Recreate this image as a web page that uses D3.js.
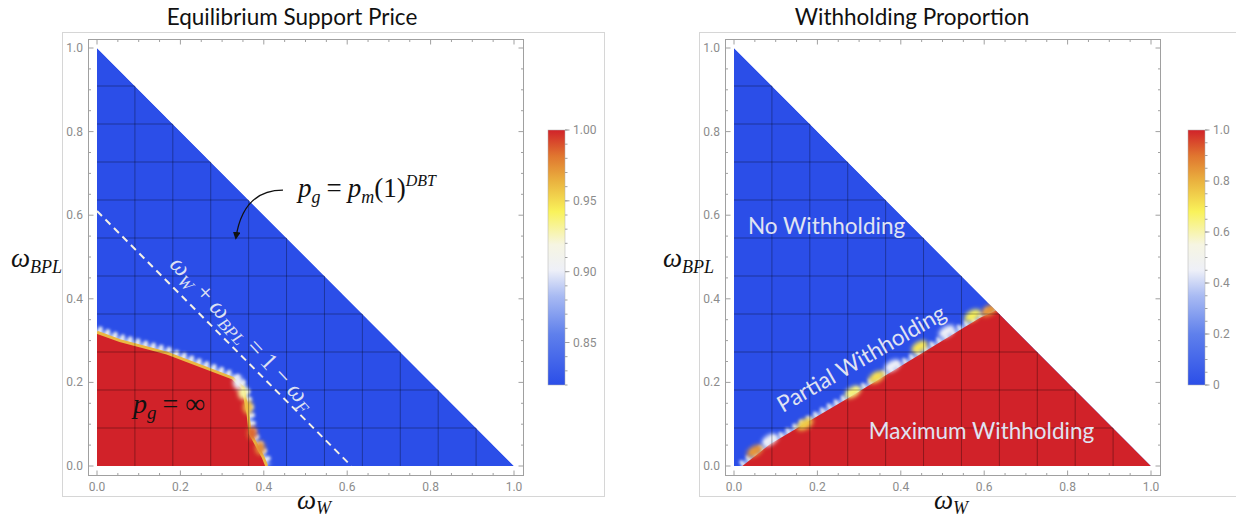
<!DOCTYPE html>
<html lang="en">
<head>
<meta charset="UTF-8">
<title>Equilibrium Support Price / Withholding Proportion</title>
<script src="https://d3js.org/d3.v7.min.js"></script>
<style>
  body { margin: 0; background: #fff; }
  .tick-label { font-family: Roboto, "Liberation Sans", sans-serif; font-size: 12px; fill: #8c8c8c; }
  .title { font-family: Lato, "Open Sans", sans-serif; font-size: 22.5px; fill: #111; }
  .math { font-family: "Liberation Serif", serif; font-style: italic; fill: #111; }
  .region-label { font-family: Lato, "Open Sans", sans-serif; font-size: 22.5px; fill: #e0e3f2; }
</style>
</head>
<body>
<svg width="1236" height="518"></svg>
<script>
  // axes of both panels: omega_W (x) and omega_BPL (y), 0..1
  const axisTicks = [0, 0.2, 0.4, 0.6, 0.8, 1.0];

  // left panel: equilibrium support price (colour bar 0.82 .. 1.00)
  const priceRange = [0.82, 1.0];
  const priceTicks = [0.85, 0.90, 0.95, 1.00];
  // edge of the p_g = infinity region (omegaW, omegaBPL)
  const infBoundary = [[0, 0.32], [0.055, 0.30], [0.168, 0.27], [0.326, 0.21], [0.35, 0.187],
                       [0.362, 0.127], [0.367, 0.079], [0.398, 0.022], [0.407, 0]];
  // blurry cells along that edge (omegaW, omegaBPL, price)
  const priceSpots = [[0.35, 0.176, 0.93], [0.362, 0.141, 0.96], [0.372, 0.079, 0.985],
                      [0.391, 0.043, 0.975], [0.338, 0.2, 0.9]];
  const oneMinusWF = 0.61;   // dashed line omegaW + omegaBPL = 1 - omegaF

  // right panel: withholding proportion (colour bar 0 .. 1)
  const shareRange = [0, 1];
  const shareTicks = [0, 0.2, 0.4, 0.6, 0.8, 1.0];
  const shareTickLabels = ["0", "0.2", "0.4", "0.6", "0.8", "1.0"];
  const withholdBoundary = [[0.02, 0], [0.086, 0.052], [0.27, 0.16], [0.428, 0.256],
                            [0.589, 0.354], [0.628, 0.372]];
  const shareSpots = [[0.05, 0.036, 0.85], [0.086, 0.062, 0.45], [0.17, 0.1, 0.75],
                      [0.285, 0.177, 0.65], [0.342, 0.213, 0.72], [0.38, 0.24, 0.45],
                      [0.445, 0.285, 0.7], [0.51, 0.322, 0.45], [0.572, 0.36, 0.68],
                      [0.612, 0.372, 0.85]];

  // temperature style colour map
  const tempPos = [0, 0.2, 0.35, 0.45, 0.55, 0.68, 0.8, 0.9, 1];
  const tempStops = ["#2b4ee8", "#5f80ec", "#a9bbf3", "#eef0f8", "#f6f5e2", "#f9f25a", "#eab23f", "#e0752f", "#d12229"];
  const temp = d3.scaleLinear().domain(tempPos).range(tempStops).interpolate(d3.interpolateRgb).clamp(true);

  const svg = d3.select("svg");
  const defs = svg.append("defs");

  const grad = defs.append("linearGradient").attr("id", "temp-grad")
      .attr("x1", 0).attr("y1", 1).attr("x2", 0).attr("y2", 0);
  tempPos.forEach((p, i) => grad.append("stop").attr("offset", p).attr("stop-color", tempStops[i]));

  [["blur-soft", 1.6], ["blur-thin", 0.6], ["blur-spot", 2]].forEach(([id, s]) => {
    defs.append("filter").attr("id", id)
        .attr("x", "-50%").attr("y", "-50%").attr("width", "200%").attr("height", "200%")
        .append("feGaussianBlur").attr("stdDeviation", s);
  });

  defs.append("marker").attr("id", "arrow")
      .attr("viewBox", "0 0 10 10").attr("refX", 8).attr("refY", 5)
      .attr("markerWidth", 6).attr("markerHeight", 6).attr("orient", "auto")
      .append("path").attr("d", "M0,0 L10,5 L0,10 z").attr("fill", "#111");

  // same square plot area in both panels, right one shifted by dx
  const x = d3.scaleLinear().domain([0, 1]).range([97, 514]);
  const y = d3.scaleLinear().domain([0, 1]).range([466, 48]);
  const line = d3.line().x(d => x(d[0])).y(d => y(d[1]));

  function drawPanel(p) {
    const g = svg.append("g").attr("transform", `translate(${p.dx},0)`);
    const color = v => temp((v - p.range[0]) / (p.range[1] - p.range[0]));
    const mid = f => color(p.range[0] + f * (p.range[1] - p.range[0]));

    // border of the pasted picture
    g.append("rect").attr("x", 62.5).attr("y", 32.5).attr("width", 542).attr("height", 464)
        .attr("fill", "none").attr("stroke", "#d6d6d6");

    g.append("text").attr("class", "title").attr("x", p.titleX).attr("y", 25)
        .attr("text-anchor", "middle").text(p.title);

    const clipId = "tri-" + p.id;
    g.append("clipPath").attr("id", clipId)
      .append("path").attr("d", line([[0, 0], [1, 0], [0, 1]]) + "Z");

    const plot = g.append("g").attr("clip-path", `url(#${clipId})`);

    plot.append("path").attr("d", line([[0, 0], [1, 0], [0, 1]]) + "Z")
        .attr("fill", color(p.range[0]));

    // pale jagged halo on the low side of the edge
    plot.append("path").attr("d", line(p.boundary)).attr("fill", "none")
        .attr("stroke", mid(0.3)).attr("stroke-width", p.haloWidth * 0.6)
        .attr("filter", "url(#blur-soft)");
    plot.append("path").attr("d", line(p.boundary)).attr("fill", "none")
        .attr("stroke", mid(0.48)).attr("stroke-width", p.haloWidth).attr("stroke-dasharray", p.haloDash)
        .attr("filter", "url(#blur-soft)");

    plot.append("path").attr("d", line(p.redPoly) + "Z").attr("fill", color(p.range[1]));

    if (p.edgeValue != null) {
      plot.append("path").attr("d", line(p.boundary)).attr("fill", "none")
          .attr("stroke", color(p.edgeValue)).attr("stroke-width", 3)
          .attr("filter", "url(#blur-thin)");
    }

    plot.selectAll(".spot").data(p.spots).enter().append("ellipse")
        .attr("class", "spot")
        .attr("cx", d => x(d[0])).attr("cy", d => y(d[1]))
        .attr("rx", p.spotR[0]).attr("ry", p.spotR[1])
        .attr("transform", d => `rotate(${p.spotAngle},${x(d[0])},${y(d[1])})`)
        .attr("fill", d => color(d[2]))
        .attr("filter", "url(#blur-spot)");

    // mesh
    const mesh = d3.range(1, 11).map(k => k / 11);
    plot.selectAll(".vmesh").data(mesh).enter().append("line")
        .attr("x1", d => x(d)).attr("x2", d => x(d)).attr("y1", y(0)).attr("y2", y(1))
        .attr("stroke", "#000").attr("stroke-opacity", 0.32);
    plot.selectAll(".hmesh").data(mesh).enter().append("line")
        .attr("y1", d => y(d)).attr("y2", d => y(d)).attr("x1", x(0)).attr("x2", x(1))
        .attr("stroke", "#000").attr("stroke-opacity", 0.32);

    // frame with inward ticks on all sides
    const fx0 = 88.5, fx1 = 523.5, fy0 = 39.5, fy1 = 475.5;
    g.append("rect").attr("x", fx0).attr("y", fy0).attr("width", fx1 - fx0).attr("height", fy1 - fy0)
        .attr("fill", "none").attr("stroke", "#a0a0a0");
    const all = d3.range(0, 1.0001, 0.05).map(v => ({v, major: axisTicks.some(t => Math.abs(t - v) < 1e-6)}));
    const tk = g.append("g").attr("stroke", "#a0a0a0");
    all.forEach(t => {
      const len = t.major ? 5 : 2.5;
      tk.append("line").attr("x1", x(t.v)).attr("x2", x(t.v)).attr("y1", fy1).attr("y2", fy1 - len);
      tk.append("line").attr("x1", x(t.v)).attr("x2", x(t.v)).attr("y1", fy0).attr("y2", fy0 + len);
      tk.append("line").attr("y1", y(t.v)).attr("y2", y(t.v)).attr("x1", fx0).attr("x2", fx0 + len);
      tk.append("line").attr("y1", y(t.v)).attr("y2", y(t.v)).attr("x1", fx1).attr("x2", fx1 - len);
    });
    g.selectAll(".xl").data(axisTicks).enter().append("text").attr("class", "tick-label")
        .attr("x", d => x(d)).attr("y", 491).attr("text-anchor", "middle").text(d3.format(".1f"));
    g.selectAll(".yl").data(axisTicks).enter().append("text").attr("class", "tick-label")
        .attr("x", 83).attr("y", d => y(d) + 4).attr("text-anchor", "end").text(d3.format(".1f"));

    // colour bar
    const cb = d3.scaleLinear().domain(p.range).range([385, 130]);
    const cbx = p.cbX, cbw = 17;
    g.append("rect").attr("x", cbx).attr("y", 130).attr("width", cbw).attr("height", 255)
        .attr("fill", "url(#temp-grad)").attr("stroke", "#b0b0b0").attr("stroke-width", 0.5);
    const cbt = g.append("g").attr("stroke", "#a0a0a0");
    d3.range(p.range[0], p.range[1] + 1e-9, p.cbMinor).forEach(v => {
      cbt.append("line").attr("x1", cbx + cbw).attr("x2", cbx + cbw + 2.5).attr("y1", cb(v)).attr("y2", cb(v));
    });
    p.cbTicks.forEach(v => {
      cbt.append("line").attr("x1", cbx + cbw).attr("x2", cbx + cbw + 4.5).attr("y1", cb(v)).attr("y2", cb(v));
    });
    g.selectAll(".cbl").data(p.cbTicks).enter().append("text").attr("class", "tick-label")
        .attr("x", cbx + cbw + 8).attr("y", d => cb(d) + 4).text((d, i) => p.cbLabels[i]);

    // axis titles
    const yl = g.append("text").attr("class", "math").attr("x", p.yLabelX).attr("y", 267);
    yl.append("tspan").attr("font-size", 27).text("ω");
    yl.append("tspan").attr("font-size", 18).attr("dy", 6).text("BPL");
    const xl = g.append("text").attr("class", "math").attr("x", 297).attr("y", 509);
    xl.append("tspan").attr("font-size", 27).text("ω");
    xl.append("tspan").attr("font-size", 18).attr("dy", 5).text("W");

    return g;
  }

  // ---- left panel ----
  const left = drawPanel({
    id: "price", dx: 0, title: "Equilibrium Support Price", titleX: 292,
    range: priceRange, boundary: infBoundary, redPoly: [[0, 0], ...infBoundary],
    haloWidth: 13, haloDash: "4 4", edgeValue: 0.962,
    spots: priceSpots, spotR: [5, 7], spotAngle: 0,
    cbX: 548, cbTicks: priceTicks, cbLabels: priceTicks.map(d3.format(".2f")), cbMinor: 0.01,
    yLabelX: 11
  });

  left.append("line")
      .attr("x1", x(0)).attr("y1", y(oneMinusWF)).attr("x2", x(oneMinusWF)).attr("y2", y(0))
      .attr("stroke", "#f4f1e6").attr("stroke-width", 2).attr("stroke-dasharray", "7 5");

  const sumLabel = left.append("text").attr("class", "math")
      .attr("transform", `translate(${x(0.335)},${y(0.305)}) rotate(47)`)
      .attr("text-anchor", "middle").attr("font-size", 25).style("fill", "#dde0f3");
  sumLabel.append("tspan").text("ω");
  sumLabel.append("tspan").attr("font-size", 17).attr("dy", 5).text("W");
  sumLabel.append("tspan").attr("dy", -5).style("font-style", "normal").text("  +  ");
  sumLabel.append("tspan").text("ω");
  sumLabel.append("tspan").attr("font-size", 17).attr("dy", 5).text("BPL");
  sumLabel.append("tspan").attr("dy", -5).style("font-style", "normal").text("  =  1  −  ");
  sumLabel.append("tspan").text("ω");
  sumLabel.append("tspan").attr("font-size", 17).attr("dy", 5).text("F");

  const dbt = left.append("text").attr("class", "math").attr("x", 298).attr("y", 197).attr("font-size", 27);
  dbt.append("tspan").text("p");
  dbt.append("tspan").attr("font-size", 18).attr("dy", 6).text("g");
  dbt.append("tspan").attr("dx", 6).attr("dy", -6).style("font-style", "normal").text("=");
  dbt.append("tspan").attr("dx", 6).text("p");
  dbt.append("tspan").attr("font-size", 18).attr("dy", 6).text("m");
  dbt.append("tspan").attr("dy", -6).style("font-style", "normal").text("(1)");
  dbt.append("tspan").attr("font-size", 16).attr("dy", -11).text("DBT");

  left.append("path")
      .attr("d", `M${x(0.446)},${y(0.66)} Q${x(0.35)},${y(0.66)} ${x(0.333)},${y(0.545)}`)
      .attr("fill", "none").attr("stroke", "#111").attr("stroke-width", 1.3)
      .attr("marker-end", "url(#arrow)");

  const inf = left.append("text").attr("class", "math").attr("x", 133).attr("y", 413).attr("font-size", 28);
  inf.append("tspan").text("p");
  inf.append("tspan").attr("font-size", 19).attr("dy", 6).text("g");
  inf.append("tspan").attr("dx", 6).attr("dy", -6).style("font-style", "normal").text("= ∞");

  // ---- right panel ----
  const right = drawPanel({
    id: "share", dx: 637, title: "Withholding Proportion", titleX: 275,
    range: shareRange, boundary: withholdBoundary, redPoly: [...withholdBoundary, [1, 0]],
    haloWidth: 11, haloDash: "3 5", edgeValue: null,
    spots: shareSpots, spotR: [9, 5], spotAngle: -31,
    cbX: 551, cbTicks: shareTicks, cbLabels: shareTickLabels, cbMinor: 0.05,
    yLabelX: 26
  });

  right.append("text").attr("class", "region-label")
      .attr("x", x(0.0335)).attr("y", y(0.555)).text("No Withholding");
  right.append("text").attr("class", "region-label")
      .attr("transform", `translate(${x(0.117)},${y(0.127)}) rotate(-30)`).text("Partial Withholding");
  right.append("text").attr("class", "region-label")
      .attr("x", x(0.323)).attr("y", y(0.0646)).text("Maximum Withholding");
</script>
</body>
</html>
